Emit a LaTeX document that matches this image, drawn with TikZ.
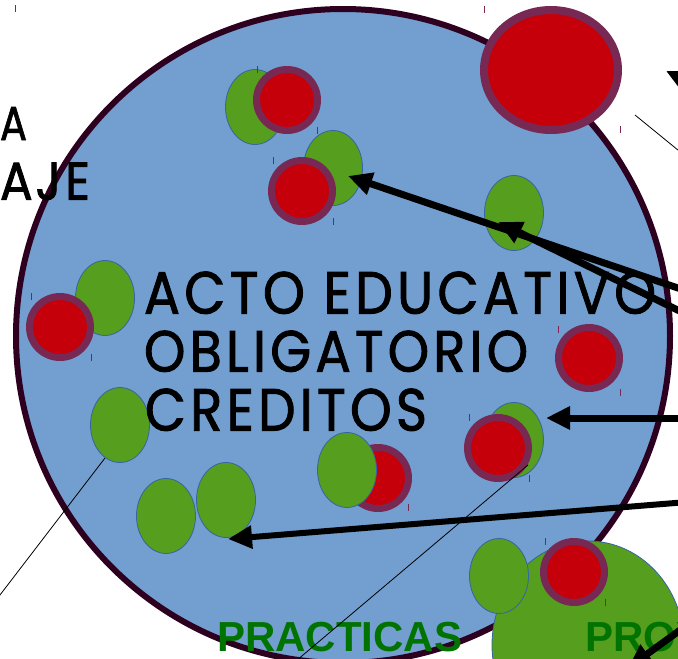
\documentclass[tikz,border=0pt]{standalone}
\usepackage{fontspec}
\setmainfont{Liberation Sans}
\newfontfamily\handfont[LetterSpace=8,FakeBold=1.6]{Poppins}
\newfontfamily\handfontb[FakeBold=1.6]{Poppins}
\usetikzlibrary{arrows.meta,shapes.geometric}
\definecolor{bluefill}{RGB}{114,159,207}
\definecolor{rimdark}{RGB}{45,0,32}
\definecolor{leaf}{RGB}{86,158,30}
\definecolor{leafline}{RGB}{52,101,164}
\definecolor{redfill}{RGB}{197,0,11}
\definecolor{ringc}{RGB}{119,41,83}
\definecolor{textgreen}{RGB}{0,115,0}
\begin{document}
\begin{tikzpicture}[x=1pt,y=-1pt,
  greenell/.style={ellipse, draw=leafline, line width=0.8pt, fill=leaf, inner sep=0pt, outer sep=0pt, minimum width=59pt, minimum height=75pt},
  redring/.style={circle, draw=ringc, line width=7pt, fill=redfill, inner sep=0pt, outer sep=0pt, minimum size=61pt},
  bigarrow/.style={draw=black, line width=7pt, line cap=butt, -{Triangle[length=24pt,width=22pt]}},
  thinline/.style={draw=black, line width=0.8pt},
  tickmark/.style={draw=ringc, line width=0.9pt},
  hand/.style={anchor=south west, inner sep=0pt, outer sep=0pt, text=black},
  greenlabel/.style={font=\bfseries\fontsize{42}{42}\selectfont, text=textgreen, anchor=base west, inner sep=0pt}]
\useasboundingbox (0,0) rectangle (678,659);
\clip (0,0) rectangle (678,659);
% main circle
\node[circle, draw=rimdark, line width=6pt, fill=bluefill, inner sep=0pt, minimum size=654pt] (world) at (343,336) {};
% big red top
\node[ellipse, draw=ringc, line width=8pt, fill=redfill, inner sep=0pt, minimum width=134pt, minimum height=120pt] (bigred) at (551,70) {};
% pairs
\node[greenell] (g1) at (255,107) {};
\node[redring] (r1) at (287,100) {};
\node[greenell] (g2) at (333,168) {};
\node[redring] (r2) at (302,191) {};
\node[greenell] (g4) at (514,213) {};
\node[greenell] (g5) at (105,298) {};
\node[redring] (r5) at (60,327) {};
\node[redring] (r6) at (589,358) {};
\node[greenell] (g7) at (120,425) {};
\node[greenell] (g8a) at (166,516) {};
\node[greenell] (g8b) at (226,500) {};
\node[redring] (r9) at (378,478) {};
\node[greenell] (g9) at (347,470) {};
\node[greenell] (g10) at (514,440) {};
\node[redring] (r10) at (498,448) {};
\node[ellipse, draw=leafline, line width=0.8pt, fill=leaf, inner sep=0pt, minimum width=192pt, minimum height=208pt] (biggreen) at (588,645) {};
\node[greenell] (g11) at (499,576) {};
\node[redring] (r12) at (574,572) {};
% texts
\node[hand] (t1) at (144,314) {\resizebox{512pt}{42pt}{\handfont ACTO EDUCATIVO}};
\node[hand] (t2) at (144,372) {\resizebox{384pt}{41pt}{\handfont OBLIGATORIO}};
\node[hand] (t3) at (145,431) {\resizebox{282pt}{42pt}{\handfont CREDITOS}};
\node[hand] (t4) at (0,140) {\resizebox{27pt}{33pt}{\handfontb A}};
\node[hand] (t5) at (0,200) {\resizebox{90pt}{37pt}{\handfontb A\kern0.6pt J\kern0.8pt E}};
\node[greenlabel] (prac) at (217,651) {PRACTICAS};
\node[greenlabel] (proy) at (585,651) {PROY};
% tick marks
\foreach \tx/\ty in {15/5,484/6,620/126,257/66,317/127,273/157,333/218,31/293,91/354,558/326,620/389,469/414,529/475,408/504,545/538,605/599}
  \draw[tickmark] (\tx,\ty) -- (\tx,\ty+7);
% thin lines
\coordinate (l1a) at (635,115); \coordinate (l1b) at (700,168);
\coordinate (l2a) at (105,458); \coordinate (l2b) at (-10,608);
\coordinate (l3a) at (528,465); \coordinate (l3b) at (290,666);
\draw[thinline] (l1a) -- (l1b);
\draw[thinline] (l2a) -- (l2b);
\draw[thinline] (l3a) -- (l3b);
% arrows
\coordinate (a1s) at (700,295.5); \coordinate (a1t) at (348,176);
\coordinate (a2s) at (700,321); \coordinate (a2t) at (498,222);
\coordinate (a3s) at (700,418); \coordinate (a3t) at (546,418);
\coordinate (a4s) at (700,501); \coordinate (a4t) at (228,539);
\coordinate (a5s) at (720,97); \coordinate (a5t) at (666,71);
\coordinate (a6s) at (705,612); \coordinate (a6t) at (628,668);
\draw[bigarrow] (a1s) -- (a1t);
\draw[bigarrow] (a2s) -- (a2t);
\draw[bigarrow] (a3s) -- (a3t);
\draw[bigarrow, line width=6pt] (a4s) -- (a4t);
\draw[bigarrow] (a5s) -- (a5t);
\draw[bigarrow] (a6s) -- (a6t);
\end{tikzpicture}
\end{document}
